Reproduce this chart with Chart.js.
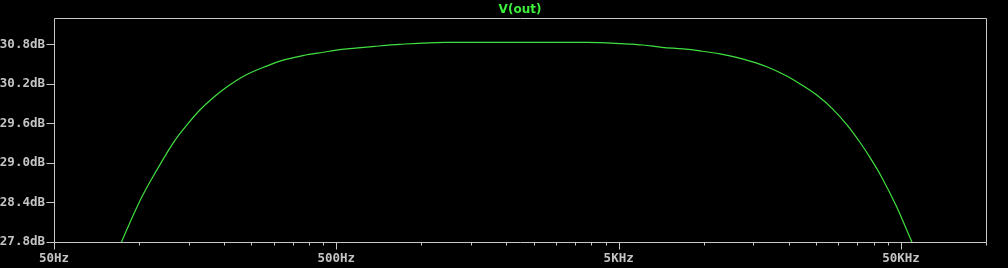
<!DOCTYPE html>
<html><head><meta charset="utf-8">
<script src="https://cdn.jsdelivr.net/npm/chart.js@4.4.1/dist/chart.umd.min.js"></script>
<style>html,body{margin:0;padding:0;background:#000;overflow:hidden}
#wrap{width:1008px;height:268px;position:relative}</style>
</head><body><div id="wrap"><canvas id="c" width="1008" height="268"></canvas></div>
<script>
// Frequency response V(out): frequency (Hz) vs gain (dB)
const freqHz = [80, 86.7, 100.6, 112, 133.9, 149.3, 164, 183, 204, 240, 283, 324, 381, 449, 515, 572, 684, 840, 1212, 2234, 3891, 5135, 6096, 7121, 8452, 9706, 11430, 13820, 16730, 19690, 21950, 25150, 28780, 32130, 35810, 38860, 42760, 48300, 51000, 54900, 58000];
const gainDb = [27.43, 27.80, 28.42, 28.79, 29.34, 29.60, 29.80, 29.99, 30.15, 30.34, 30.47, 30.56, 30.63, 30.68, 30.72, 30.74, 30.77, 30.80, 30.83, 30.83, 30.83, 30.81, 30.79, 30.755, 30.73, 30.70, 30.655, 30.575, 30.46, 30.32, 30.20, 30.03, 29.81, 29.58, 29.31, 29.08, 28.78, 28.33, 28.10, 27.78, 27.53];
const seriesName = 'V(out)';
const xMajorTicks = [50, 500, 5000, 50000];
const xMajorLabels = ['50Hz', '500Hz', '5KHz', '50KHz'];
const xMinorTicks = [100,150,200,250,300,350,400,450, 1000,1500,2000,2500,3000,3500,4000,4500, 10000,15000,20000,25000,30000,35000,40000,45000, 100000];
const yTicks = [27.8, 28.4, 29.0, 29.6, 30.2, 30.8];
const yLabels = ['27.8dB', '28.4dB', '29.0dB', '29.6dB', '30.2dB', '30.8dB'];

const FRAME = '#c8c8c8', TEXT = '#c4c4c4', TRACE = '#40e040', TITLE = '#3cf03c';
const FONT = {family: "'DejaVu Sans Mono', monospace", size: 12.5, weight: 'bold'};

const framePlugin = {
  id: 'frame',
  afterDraw(chart) {
    const {ctx, chartArea: a, scales: {x, y}} = chart;
    ctx.save();
    ctx.strokeStyle = FRAME;
    ctx.lineWidth = 1;
    ctx.beginPath();
    const L = Math.round(a.left) + 0.5, R = Math.round(a.right) + 0.5;
    const T = Math.round(a.top) + 0.5, B = Math.round(a.bottom) + 0.5;
    ctx.rect(L, T, R - L, B - T);
    xMajorTicks.forEach(v => { const px = Math.round(x.getPixelForValue(v)) + 0.5; ctx.moveTo(px, B); ctx.lineTo(px, B + 7); });
    xMinorTicks.forEach(v => { const px = Math.round(x.getPixelForValue(v)) + 0.5; ctx.moveTo(px, B); ctx.lineTo(px, B + 3); });
    yTicks.forEach(v => { const py = Math.round(y.getPixelForValue(v)) + 0.5; ctx.moveTo(L - 8, py); ctx.lineTo(L, py); });
    ctx.stroke();
    ctx.restore();
  }
};

new Chart(document.getElementById('c'), {
  type: 'line',
  data: {
    datasets: [{
      label: seriesName,
      data: freqHz.map((f, i) => ({x: f, y: gainDb[i]})),
      borderColor: TRACE,
      borderWidth: 1.2,
      pointRadius: 0,
      fill: false,
      cubicInterpolationMode: 'monotone'
    }]
  },
  options: {
    responsive: false,
    animation: false,
    devicePixelRatio: 1,
    layout: {padding: {top: 0, right: 22, left: 0, bottom: 0}},
    plugins: {
      legend: {display: false},
      tooltip: {enabled: false},
      title: {
        display: true, text: seriesName, color: TITLE, fullSize: false,
        font: {family: "'DejaVu Sans', sans-serif", size: 12, weight: 'bold'},
        padding: {top: 3, bottom: 0.6}
      }
    },
    scales: {
      x: {
        type: 'logarithmic', min: 50, max: 100000,
        grid: {display: false, drawTicks: false},
        border: {display: false},
        afterBuildTicks: s => { s.ticks = xMajorTicks.map(v => ({value: v})); },
        afterFit: s => { s.height = 26; },
        ticks: {autoSkip: false, maxRotation: 0, minRotation: 0, color: TEXT, font: FONT, padding: 9,
          callback: (v, i) => xMajorLabels[i]}
      },
      y: {
        type: 'linear', min: 27.8, max: 31.2,
        grid: {display: false, drawTicks: false},
        border: {display: false},
        afterBuildTicks: s => { s.ticks = yTicks.map(v => ({value: v})); },
        afterFit: s => { s.width = 54; },
        ticks: {autoSkip: false, color: TEXT, font: FONT, padding: 9,
          callback: (v, i) => yLabels[i]}
      }
    }
  },
  plugins: [framePlugin]
});
</script></body></html>
